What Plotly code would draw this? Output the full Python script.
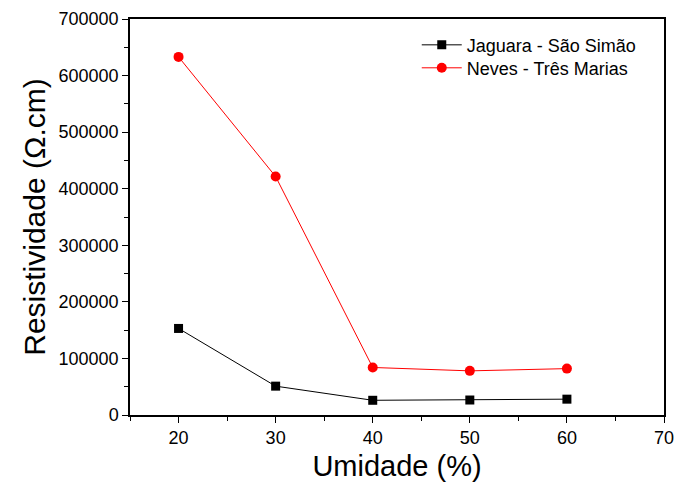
import plotly.graph_objects as go

umidade = [20, 30, 40, 50, 60]
jaguara = [153000, 51000, 26000, 26500, 28000]
neves = [633000, 421500, 84000, 78000, 82000]

FONT = "Liberation Sans, Arial, sans-serif"

fig = go.Figure()
fig.add_trace(go.Scatter(
    x=umidade, y=jaguara, mode="lines+markers", name="Jaguara - São Simão",
    line=dict(color="black", width=1),
    marker=dict(symbol="square", size=9, color="black"),
    legend="legend",
))
fig.add_trace(go.Scatter(
    x=umidade, y=neves, mode="lines+markers", name="Neves - Três Marias",
    line=dict(color="red", width=1),
    marker=dict(symbol="circle", size=10, color="red"),
    legend="legend2",
))

axis_common = dict(
    showline=True, linecolor="black", linewidth=1.5, mirror=True,
    ticks="outside", ticklen=6, tickwidth=1.2, tickcolor="black",
    showgrid=False, zeroline=False, automargin=False,
    tickfont=dict(family=FONT, size=18, color="black"),
    minor=dict(ticks="outside", ticklen=4, tickwidth=1, tickcolor="black"),
)

fig.update_xaxes(
    range=[15, 70], tickvals=[20, 30, 40, 50, 60, 70],
    minor_dtick=5, minor_tick0=15,
    title=dict(text="Umidade (%)", font=dict(family=FONT, size=29, color="black"), standoff=8),
    **axis_common,
)
fig.update_yaxes(
    range=[0, 700000], dtick=100000, tickformat="d",
    minor_dtick=50000,
    title=dict(text="Resistividade (Ω.cm)", font=dict(family=FONT, size=30, color="black"), standoff=4),
    **axis_common,
)

legend_style = dict(
    x=0.537, xanchor="left", yanchor="middle",
    bgcolor="rgba(0,0,0,0)",
    font=dict(family=FONT, size=18, color="black"),
    itemwidth=40,
)

fig.update_layout(
    width=676, height=486,
    margin=dict(l=130, r=12, t=19, b=71),
    plot_bgcolor="white", paper_bgcolor="white",
    showlegend=True,
    legend=dict(y=0.934, **legend_style),
    legend2=dict(y=0.876, **legend_style),
)

fig.write_html("out.html")
